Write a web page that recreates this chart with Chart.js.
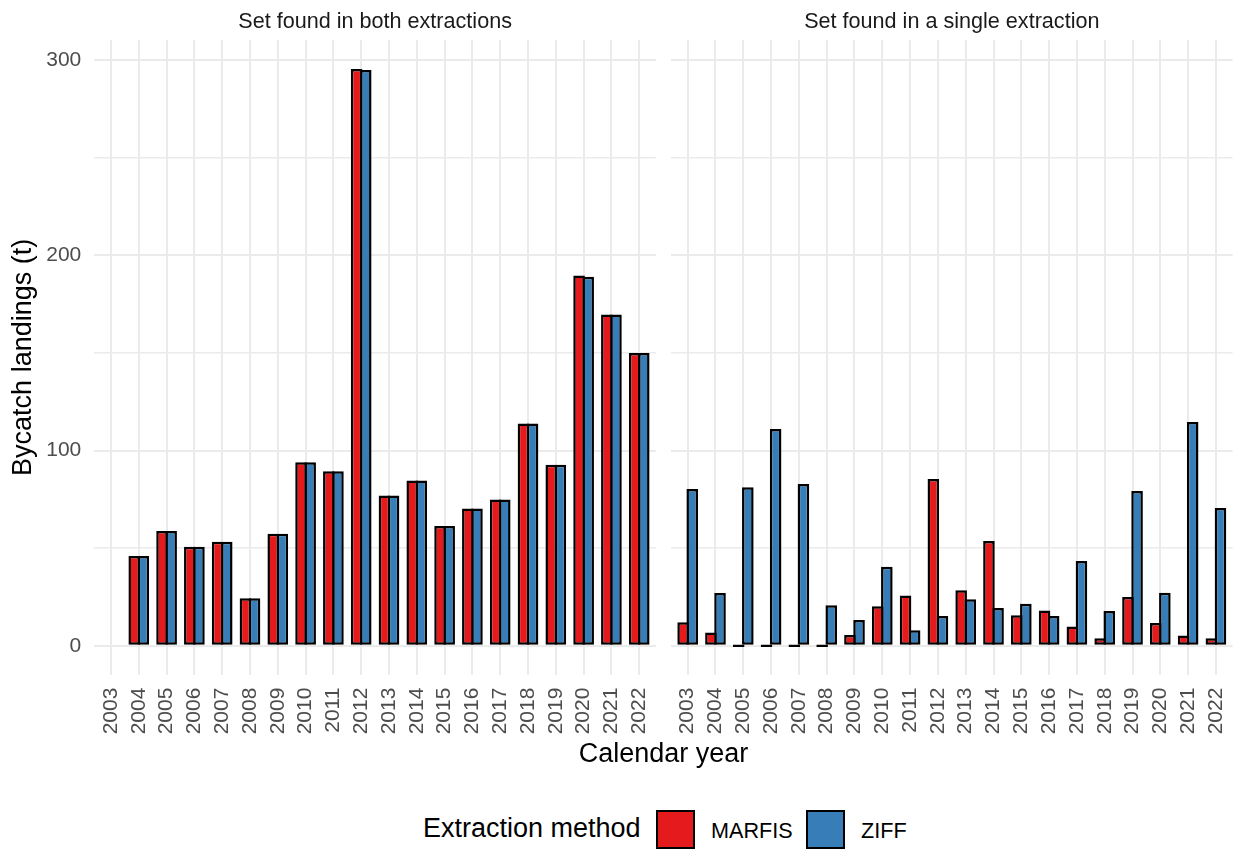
<!DOCTYPE html>
<html>
<head>
<meta charset="utf-8">
<title>Bycatch landings by extraction method</title>
<script src="https://cdn.jsdelivr.net/npm/chart.js@4.4.1/dist/chart.umd.min.js"></script>
<style>
  html, body { margin: 0; padding: 0; background: #ffffff; }
  #wrap { position: relative; width: 1238px; height: 850px; overflow: hidden;
          font-family: 'Liberation Sans', Arial, sans-serif; background: #ffffff; }
  canvas { position: absolute; top: 0; }
  #panelBoth { left: 0; }
  #panelSingle { left: 662px; }
  .xtitle { position: absolute; left: 0; width: 1327px; top: 740px; text-align: center;
            font-size: 27px; line-height: 27px; color: #000; }
  .legend-title { position: absolute; left: 423px; top: 815px; font-size: 27px; line-height: 27px; color: #000; }
  .swatch { position: absolute; top: 810px; width: 35px; height: 35px; border: 2px solid #000; }
  .legend-label { position: absolute; top: 820px; font-size: 21.6px; line-height: 22px; color: #000; }
</style>
</head>
<body>
<div id="wrap">
  <canvas id="panelBoth" width="662" height="740"></canvas>
  <canvas id="panelSingle" width="576" height="740"></canvas>
  <div class="xtitle">Calendar year</div>
  <div class="legend-title">Extraction method</div>
  <div class="swatch" id="swMarfis" style="left:656px;"></div>
  <div class="legend-label" id="lbMarfis" style="left:711px;"></div>
  <div class="swatch" id="swZiff" style="left:806px;"></div>
  <div class="legend-label" id="lbZiff" style="left:861px;"></div>
</div>
<script>
// Calendar years shown on both facets
const years = [2003, 2004, 2005, 2006, 2007, 2008, 2009, 2010, 2011, 2012,
               2013, 2014, 2015, 2016, 2017, 2018, 2019, 2020, 2021, 2022];

// Bycatch landings (t), sets found in both extractions
const bothMarfis = [null, 46.0, 58.8, 50.7, 53.3, 24.3, 57.4, 94.1, 89.4, 295.6,
                    77.0, 84.7, 61.4, 70.3, 75.0, 113.9, 92.8, 189.7, 169.7, 150.0];
const bothZiff   = [null, 46.0, 58.8, 50.7, 53.3, 24.3, 57.4, 94.1, 89.4, 295.0,
                    77.0, 84.7, 61.4, 70.3, 75.0, 113.9, 92.8, 189.1, 169.7, 150.0];

// Bycatch landings (t), sets found in a single extraction
const singleMarfis = [12.0, 6.8, 0, 0, 0, 0, 5.5, 20.2, 25.8, 85.5,
                      28.4, 53.7, 15.6, 18.1, 9.9, 3.8, 25.0, 11.6, 5.3, 3.8];
const singleZiff   = [80.3, 27.0, 81.2, 111.1, 82.9, 20.7, 13.2, 40.5, 8.0, 15.2,
                      23.8, 19.3, 21.5, 15.2, 43.4, 17.8, 79.3, 27.2, 114.7, 70.6];

const methods = ['MARFIS', 'ZIFF'];
const methodColors = ['#E41A1C', '#377EB8'];
const panelTitles = ['Set found in both extractions', 'Set found in a single extraction'];
const yAxisTitle = 'Bycatch landings (t)';

const FONT = "'Liberation Sans', Arial, sans-serif";
const GRID = '#EBEBEB';
const TICK_COLOR = '#4D4D4D';

// shared y range: data extent plus 5% on each side
const allValues = [].concat(bothMarfis, bothZiff, singleMarfis, singleZiff).filter(v => v != null);
const yMaxData = Math.max(...allValues);
const yPad = 0.05 * yMaxData;
// x range: one year step spread with 0.6 extra on each side
const xMin = years[0] - 0.6;
const xMax = years[years.length - 1] + 0.6;

function barDataset(i, values) {
  return {
    label: methods[i],
    data: values,
    backgroundColor: methodColors[i],
    borderColor: '#000000',
    borderWidth: 2.5,
    borderSkipped: false,
    minBarLength: 2.5
  };
}

function makePanel(canvasId, title, marfis, ziff, isLeft) {
  return new Chart(document.getElementById(canvasId), {
    type: 'bar',
    data: {
      labels: years,
      datasets: [barDataset(0, marfis), barDataset(1, ziff)]
    },
    options: {
      responsive: false,
      animation: false,
      devicePixelRatio: 1,
      // neighbouring bars overlap by one border width so they share an outline
      categoryPercentage: 0.6547,
      barPercentage: 1.2747,
      layout: { padding: { left: isLeft ? 0 : 9, right: isLeft ? 6.1 : 5.4, top: 0, bottom: 0 } },
      plugins: {
        legend: { display: false },
        tooltip: { enabled: false },
        title: {
          display: true,
          text: title,
          fullSize: false,
          color: '#1A1A1A',
          font: { family: FONT, size: 21.6, weight: 'normal', lineHeight: 1 },
          padding: { top: 11, bottom: 7.5 }
        }
      },
      scales: {
        x: {
          type: 'linear',
          min: xMin,
          max: xMax,
          offset: false,
          grid: { color: GRID, lineWidth: 2, drawTicks: false, offset: false },
          border: { display: false },
          ticks: {
            stepSize: 1,
            includeBounds: false,
            autoSkip: false,
            maxTicksLimit: 100,
            maxRotation: 90,
            minRotation: 90,
            padding: 13,
            color: TICK_COLOR,
            font: { family: FONT, size: 21 },
            callback: v => String(v)
          },
          afterFit: s => {
            s.height = 65.4;
            s.paddingLeft = 0;
            s.paddingRight = 0;
          }
        },
        y: {
          min: -yPad,
          max: yMaxData + yPad,
          grid: {
            color: GRID,
            lineWidth: ctx => (ctx.tick && ctx.tick.value % 100 === 0) ? 2 : 1.5,
            drawTicks: false
          },
          border: { display: false },
          ticks: {
            display: isLeft,
            stepSize: 50,
            includeBounds: false,
            padding: 13,
            color: TICK_COLOR,
            font: { family: FONT, size: 21 },
            callback: v => (v % 100 === 0 ? String(v) : '')
          },
          title: {
            display: isLeft,
            text: yAxisTitle,
            color: '#000000',
            font: { family: FONT, size: 27, lineHeight: 1 },
            padding: { top: 10, bottom: 0 }
          },
          afterFit: s => {
            s.width = isLeft ? 94.3 : 0;
            s.paddingTop = 0;
            s.paddingBottom = 0;
          }
        }
      }
    }
  });
}

makePanel('panelBoth', panelTitles[0], bothMarfis, bothZiff, true);
makePanel('panelSingle', panelTitles[1], singleMarfis, singleZiff, false);

// legend keys
document.getElementById('swMarfis').style.background = methodColors[0];
document.getElementById('swZiff').style.background = methodColors[1];
document.getElementById('lbMarfis').textContent = methods[0];
document.getElementById('lbZiff').textContent = methods[1];
</script>
</body>
</html>
